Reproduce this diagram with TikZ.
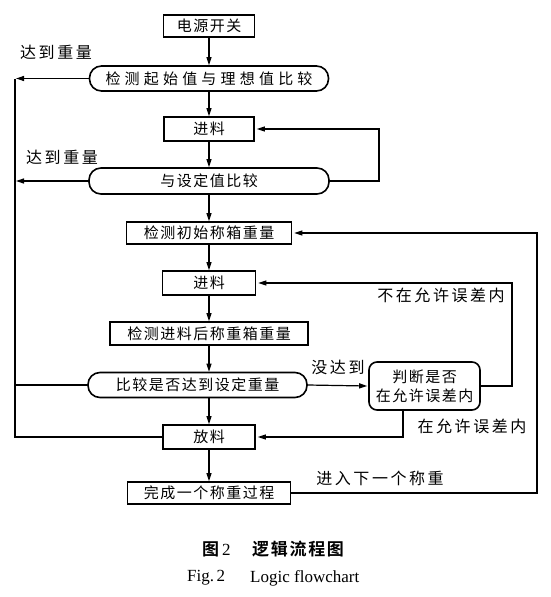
\documentclass[tikz,border=0pt]{standalone}
\usepackage{fontspec}
\setmainfont{Liberation Serif}
\newfontfamily\cjkbox{Noto Sans CJK SC}[LetterSpace=10]
\newfontfamily\cjkwide{Noto Sans CJK SC}[LetterSpace=28]
\newfontfamily\cjklbl{Noto Sans CJK SC}[LetterSpace=16]
\newfontfamily\cjkcap{Noto Sans CJK SC Bold}[LetterSpace=10]
\newfontfamily\cjkcapn{Noto Sans CJK SC Bold}
\usetikzlibrary{arrows.meta}
\tikzset{
  box/.style={draw, line width=1.6pt, inner sep=0pt, font=\cjkbox\fontsize{15}{17}\selectfont},
  stadium/.style={box, rounded corners=12pt},
  lbl/.style={inner sep=0pt, font=\cjklbl\fontsize{16}{18}\selectfont},
  conn/.style={line width=1.2pt},
  arr/.style={conn, -{Triangle[length=8pt,width=5pt]}},
}
\begin{document}
\begin{tikzpicture}[x=1pt,y=-1pt]
\useasboundingbox (0,0) rectangle (550,597);
% nodes
\node[box, minimum width=91pt, minimum height=22pt] (n1) at (209,26) {电源开关};
\node[stadium, minimum width=239pt, minimum height=25pt, font=\cjkwide\fontsize{15}{17}\selectfont] (n2) at (209,78.5) {检测起始值与理想值比较};
\node[box, minimum width=90pt, minimum height=24pt] (n3) at (209,129) {进料};
\node[stadium, minimum width=240pt, minimum height=26pt] (n4) at (209,181) {与设定值比较};
\node[box, minimum width=165pt, minimum height=22pt] (n5) at (209,233) {检测初始称箱重量};
\node[box, minimum width=93pt, minimum height=24pt] (n6) at (209,283) {进料};
\node[box, minimum width=198pt, minimum height=23pt] (n7) at (209,333.5) {检测进料后称重箱重量};
\node[stadium, minimum width=219pt, minimum height=25pt] (n8) at (197.5,385) {比较是否达到设定重量};
\node[box, rounded corners=8pt, minimum width=111pt, minimum height=48pt, align=center] (n9) at (424.5,386) {判断是否\\[2pt]在允许误差内};
\node[box, minimum width=92pt, minimum height=24pt] (n10) at (209,437) {放料};
\node[box, minimum width=163pt, minimum height=22pt] (n11) at (209,493) {完成一个称重过程};
% labels
\node[lbl] (l1) at (56,52) {达到重量};
\node[lbl] (l2) at (62,157) {达到重量};
\node[lbl] (l3) at (441,295) {不在允许误差内};
\node[lbl] (l4) at (338,367) {没达到};
\node[lbl] (l5) at (472,426) {在允许误差内};
\node[lbl] (l6) at (380,478) {进入下一个称重};
% caption
\node[inner sep=0pt, anchor=west, font=\fontsize{17}{19}\selectfont] (c1a) at (202,549.5) {{\cjkcapn 图}\kern3pt 2};
\node[inner sep=0pt, anchor=west, font=\cjkcap\fontsize{17}{19}\selectfont] (c1b) at (252,549.5) {逻辑流程图};
\node[inner sep=0pt, anchor=west, font=\fontsize{17}{19}\selectfont] (c2a) at (187,578) {Fig.\kern2.5pt 2};
\node[inner sep=0pt, anchor=west, font=\fontsize{17}{19}\selectfont] (c2b) at (250,578) {Logic flowchart};
% helper coordinates
\coordinate (L) at (15,0);
\coordinate (R1) at (379,0);
\coordinate (R2) at (512,0);
\coordinate (R3) at (537,0);
\coordinate (J) at (403,0);
% main axis
\draw[arr] (n1) -- (n2);
\draw[arr] (n2) -- (n3);
\draw[arr] (n3) -- (n4);
\draw[arr] (n4) -- (n5);
\draw[arr] (n5) -- (n6);
\draw[arr] (n6) -- (n7);
\draw[arr] (n7.south) -- (n7.south |- n8.north);
\draw[arr] (n10.north |- n8.south) -- (n10.north);
\draw[arr] (n10) -- (n11);
% left side
\draw[arr] (n2.west) -- ([xshift=1pt]n2.west -| L);
\draw[arr] (n4.west) -- ([xshift=1pt]n4.west -| L);
\draw[conn] (n2.west -| L) -- (L |- n10.west) -- (n10.west);
\draw[conn] (n8.west) -- (n8.west -| L);
% right loops
\draw[arr, shorten >=2pt] (n4.east) -- (n4.east -| R1) |- (n3.east);
\draw[arr] (n8.east) -- ([xshift=-1pt]n9.west);
\draw[arr, shorten >=2pt] (n9.east) -- (n9.east -| R2) |- (n6.east);
\draw[arr, shorten >=2pt] ([yshift=2pt]n9.south -| J) |- (n10.east);
\draw[arr, shorten >=2pt] (n11.east) -- (n11.east -| R3) |- (n5.east);
\end{tikzpicture}
\end{document}
